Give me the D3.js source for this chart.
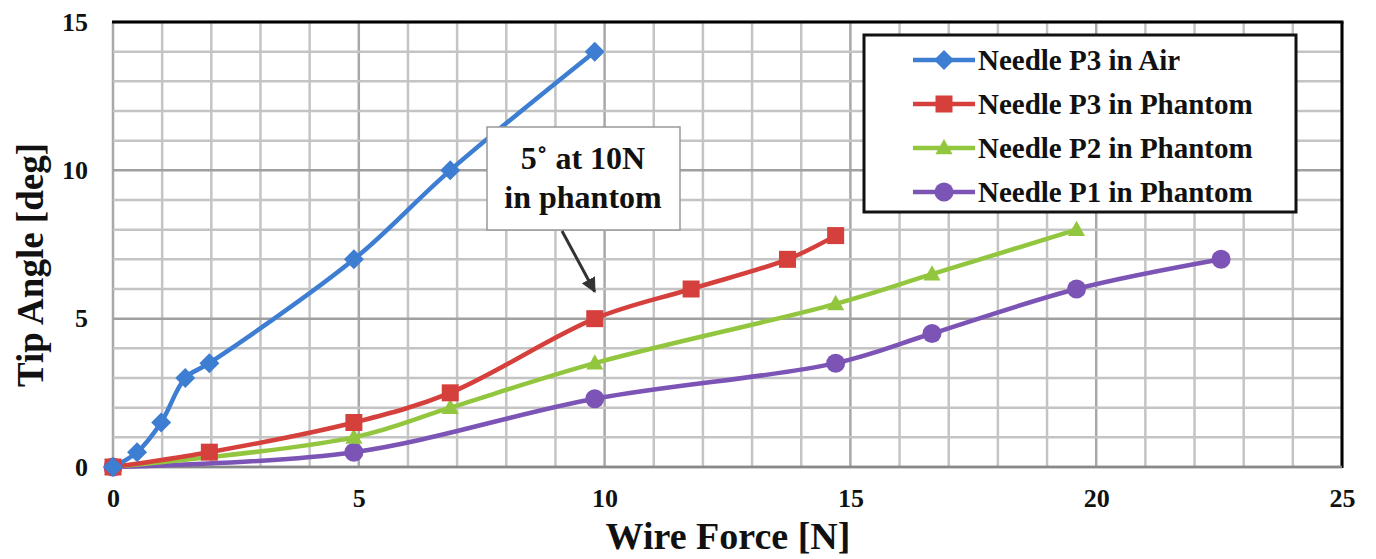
<!DOCTYPE html>
<html><head><meta charset="utf-8">
<script src="https://cdn.jsdelivr.net/npm/d3@7"></script>
<style>body{margin:0;background:#fff}svg{display:block}text{font-family:"Liberation Serif","Times New Roman",serif;font-weight:bold;fill:#111}</style>
</head><body><svg id="c" width="1376" height="559"></svg>
<script>
const xTicks=[0,5,10,15,20,25];
const yTicks=[0,5,10,15];
const seriesNames=["Needle P3 in Air","Needle P3 in Phantom","Needle P2 in Phantom","Needle P1 in Phantom"];
const airX=[0,0.49,0.98,1.47,1.96,4.9,6.86,9.8];
const airY=[0,0.5,1.5,3,3.5,7,10,14];
const p3X=[0,1.96,4.9,6.86,9.8,11.76,13.72,14.7];
const p3Y=[0,0.5,1.5,2.5,5,6,7,7.8];
const p2X=[0,4.9,6.86,9.8,14.7,16.66,19.6];
const p2Y=[0,1,2,3.5,5.5,6.5,8];
const p1X=[0,4.9,9.8,14.7,16.66,19.6,22.54];
const p1Y=[0,0.5,2.3,3.5,4.5,6,7];
const annotationLines=["5˚ at 10N","in phantom"];
const annotX=[9.8], annotY=[5];

const colors=["#3d7ed2","#d6403c","#93c63f","#7c54b5"];
const markers=["diamond","square","triangle","circle"];
const svg=d3.select("#c");
const L=113,R=1342,T=22,B=467;
const x=d3.scaleLinear().domain([0,25]).range([L,R]);
const y=d3.scaleLinear().domain([0,15]).range([B,T]);

// grid
const g=svg.append("g");
d3.range(0,26).forEach(v=>{g.append("line").attr("x1",x(v)).attr("x2",x(v)).attr("y1",T).attr("y2",B)
  .attr("stroke",v%5===0?"#a8a8a8":"#c4c4c4").attr("stroke-width",2.5);});
d3.range(0,16).forEach(v=>{g.append("line").attr("x1",L).attr("x2",R).attr("y1",y(v)).attr("y2",y(v))
  .attr("stroke",v%5===0?"#a0a0a0":"#c4c4c4").attr("stroke-width",2.5);});
// frame
svg.append("line").attr("x1",L-1).attr("x2",R+1.5).attr("y1",T).attr("y2",T).attr("stroke","#000").attr("stroke-width",3);
svg.append("line").attr("x1",R).attr("x2",R).attr("y1",T).attr("y2",B+1).attr("stroke","#000").attr("stroke-width",3);
svg.append("line").attr("x1",L).attr("x2",R).attr("y1",B).attr("y2",B).attr("stroke","#888").attr("stroke-width",2.5);

// axes
const xa=svg.append("g").attr("transform",`translate(0,${B})`).call(d3.axisBottom(x).tickValues(xTicks).tickSize(0).tickPadding(22).tickFormat(d3.format("d")));
xa.attr("font-size",26).attr("font-family","Liberation Serif").attr("font-weight","bold");
xa.select(".domain").remove();
xa.selectAll("text").style("font-size","26px").style("font-family","'Liberation Serif'").style("font-weight","bold").attr("fill","#111");
const ya=svg.append("g").attr("transform",`translate(${L},0)`).call(d3.axisLeft(y).tickValues(yTicks).tickSize(0).tickPadding(25).tickFormat(d3.format("d")));
ya.attr("font-size",26).attr("font-family","Liberation Serif").attr("font-weight","bold");
ya.select(".domain").remove();
ya.selectAll("text").style("font-size","26px").style("font-family","'Liberation Serif'").style("font-weight","bold").attr("fill","#111");

svg.append("text").attr("x",728).attr("y",549).attr("text-anchor","middle").style("font-size","38px").text("Wire Force [N]");
svg.append("text").attr("transform","translate(43,265) rotate(-90)").attr("text-anchor","middle").style("font-size","37px").text("Tip Angle [deg]");

const data=[[airX,airY],[p3X,p3Y],[p2X,p2Y],[p1X,p1Y]].map(([xs,ys])=>xs.map((v,i)=>[v,ys[i]]));
const line=d3.line().x(d=>x(d[0])).y(d=>y(d[1])).curve(d3.curveCatmullRom.alpha(0.5));

function marker(sel,type,color,size){
  if(type==="diamond") sel.append("path").attr("d",`M0,${-size}L${size},0L0,${size}L${-size},0Z`).attr("fill",color);
  else if(type==="square") sel.append("rect").attr("x",-size*0.85).attr("y",-size*0.85).attr("width",size*1.7).attr("height",size*1.7).attr("fill",color);
  else if(type==="triangle") sel.append("path").attr("d",`M0,${-size}L${size*0.95},${size*0.7}L${-size*0.95},${size*0.7}Z`).attr("fill",color);
  else sel.append("circle").attr("r",size*0.95).attr("fill",color);
}
[3,2,1,0].forEach(i=>{
  svg.append("path").datum(data[i]).attr("d",line).attr("fill","none").attr("stroke",colors[i]).attr("stroke-width",4.5);
});
[3,2,1,0].forEach(i=>{
  data[i].forEach(d=>{
    if(markers[i]==="triangle" && d[0]===0) return;
    const m=svg.append("g").attr("transform",`translate(${x(d[0])},${y(d[1])})`);
    marker(m,markers[i],colors[i],markers[i]==="triangle"?9:10);
  });
});

// annotation
const ax=annotX[0], ay=annotY[0];
svg.append("defs").append("marker").attr("id","ah").attr("viewBox","0 0 10 10").attr("refX",9).attr("refY",5)
 .attr("markerWidth",5).attr("markerHeight",5).attr("orient","auto").append("path").attr("d","M0,0L10,5L0,10Z").attr("fill","#333");
svg.append("rect").attr("x",487).attr("y",127).attr("width",193).attr("height",103).attr("fill","#fff").attr("stroke","#999").attr("stroke-width",1.5);
svg.append("line").attr("x1",562).attr("y1",231).attr("x2",x(ax)).attr("y2",y(ay)-27).attr("stroke","#333").attr("stroke-width",3).attr("marker-end","url(#ah)");
annotationLines.forEach((t,i)=>svg.append("text").attr("x",583).attr("y",169+i*39).attr("text-anchor","middle").style("font-size","32px").text(t));

// legend
const lg=svg.append("g");
lg.append("rect").attr("x",864).attr("y",35).attr("width",432).attr("height",177).attr("fill","#fff").attr("stroke","#111").attr("stroke-width",3);
seriesNames.forEach((n,i)=>{
  const yy=60+i*44;
  lg.append("line").attr("x1",913).attr("x2",975).attr("y1",yy).attr("y2",yy).attr("stroke",colors[i]).attr("stroke-width",4.5);
  const m=lg.append("g").attr("transform",`translate(944,${yy})`);
  marker(m,markers[i],colors[i],markers[i]==="triangle"?9:10);
  lg.append("text").attr("x",978).attr("y",yy+10).style("font-size","29px").text(n);
});
</script></body></html>
